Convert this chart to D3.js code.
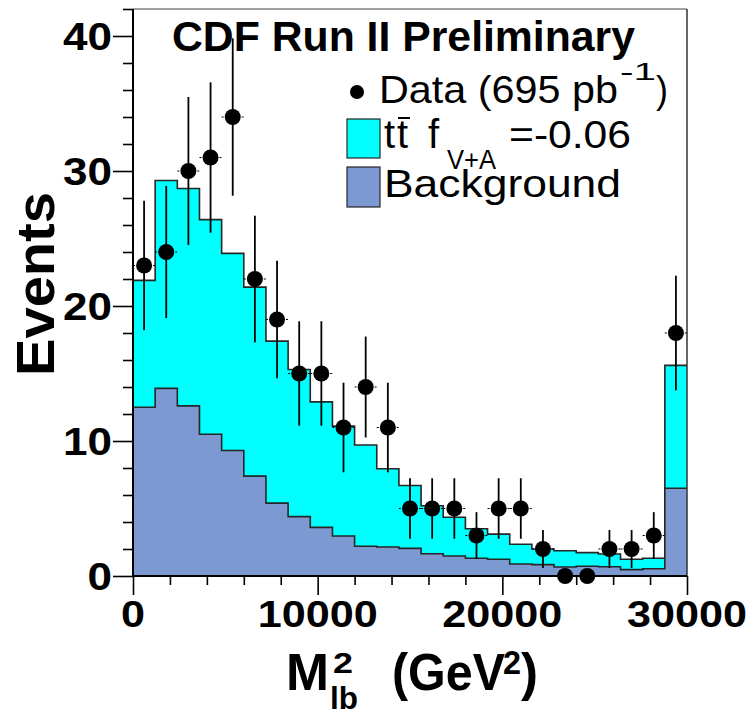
<!DOCTYPE html>
<html>
<head>
<meta charset="utf-8">
<script src="https://cdn.jsdelivr.net/npm/d3@7/dist/d3.min.js"></script>
<style>
  html, body { margin: 0; padding: 0; background: #fff; }
  svg { display: block; }
  text { font-family: "Liberation Sans", Arial, Helvetica, sans-serif; fill: #000; }
</style>
</head>
<body>
<svg id="chart" width="748" height="715"></svg>
<script>
// ---------------- data ----------------
const binCenters = [600, 1800, 3000, 4200, 5400, 6600, 7800, 9000, 10200, 11400, 12600, 13800,
  15000, 16200, 17400, 18600, 19800, 21000, 22200, 23400, 24600, 25800, 27000, 28200, 29400];
const binWidth = 1200;
const dataCounts = [23, 24, 30, 31, 34, 22, 19, 15, 15, 11, 14, 11, 5, 5, 5, 3, 5, 5, 2, 0, 0, 2, 2, 3, 18];
const dataErrors = [4.80, 4.90, 5.48, 5.57, 5.83, 4.69, 4.36, 3.87, 3.87, 3.32, 3.74, 3.32,
  2.24, 2.24, 2.24, 1.73, 2.24, 2.24, 1.41, 0, 0, 1.41, 1.41, 1.73, 4.24];
const totalExpected = [21.9, 29.3, 28.7, 26.4, 23.9, 21.4, 17.4, 15.3, 12.9, 11.1, 9.7, 7.95,
  6.7, 5.2, 4.35, 3.5, 3.1, 2.35, 2.0, 1.87, 1.73, 1.63, 1.24, 1.31, 15.6];
const background = [12.5, 13.9, 12.6, 10.5, 9.3, 7.4, 5.4, 4.4, 3.6, 2.96, 2.2, 2.15,
  2.05, 1.65, 1.48, 1.31, 1.24, 0.89, 0.84, 0.67, 0.72, 0.69, 0.47, 0.54, 6.5];
const xMajorTicks = [0, 10000, 20000, 30000];
const xTickLabels = ["0", "10000", "20000", "30000"];
const yMajorTicks = [0, 10, 20, 30, 40];
const yTickLabels = ["0", "10", "20", "30", "40"];
const xDomain = [0, 30000];
const yDomain = [0, 42];

// ---------------- layout ----------------
const L = 133, R = 687, T = 9, B = 576;
const svg = d3.select("#chart");
const x = d3.scaleLinear().domain(xDomain).range([L, R]);
const y = d3.scaleLinear().domain(yDomain).range([B, T]);

const CYAN = "#00ffff", BLUE = "#7d99d1", OUTLINE = "#262626";

function stepPoints(vals) {
  const pts = binCenters.map((c, i) => [c - binWidth / 2, vals[i]]);
  pts.push([binCenters[binCenters.length - 1] + binWidth / 2, vals[vals.length - 1]]);
  return pts;
}
const area = d3.area().x(d => x(d[0])).y0(y(0)).y1(d => y(d[1])).curve(d3.curveStepAfter);
const line = d3.line().x(d => x(d[0])).y(d => y(d[1])).curve(d3.curveStepAfter);

const g = svg.append("g");
[[totalExpected, CYAN], [background, BLUE]].forEach(([vals, col]) => {
  const pts = stepPoints(vals);
  g.append("path").attr("d", area(pts)).attr("fill", col).attr("stroke", "none");
  g.append("path").attr("d", line(pts)).attr("fill", "none")
    .attr("stroke", OUTLINE).attr("stroke-width", 1.6);
});

// frame
svg.append("line").attr("x1", L).attr("x2", R).attr("y1", T).attr("y2", T)
  .attr("stroke", "#444").attr("stroke-width", 1.2);
svg.append("line").attr("x1", R).attr("x2", R).attr("y1", T).attr("y2", B)
  .attr("stroke", "#333").attr("stroke-width", 1.5);

// axes ticks
const xMinor = d3.range(0, 30001, 2000).filter(v => !xMajorTicks.includes(v));
const yMinor = d3.range(0, 43, 2).filter(v => !yMajorTicks.includes(v));
function styleAxis(sel) {
  sel.select(".domain").remove();
  sel.selectAll(".tick line").attr("stroke", "#000").attr("stroke-width", 1.6);
  sel.selectAll(".tick text").remove();
}
svg.append("g").attr("transform", `translate(0,${B})`)
  .call(d3.axisBottom(x).tickValues(xMinor).tickSize(9)).call(styleAxis);
svg.append("g").attr("transform", `translate(0,${B})`)
  .call(d3.axisBottom(x).tickValues(xMajorTicks).tickSize(19)).call(styleAxis);
svg.append("g").attr("transform", `translate(${L},0)`)
  .call(d3.axisLeft(y).tickValues(yMinor).tickSize(10)).call(styleAxis);
svg.append("g").attr("transform", `translate(${L},0)`)
  .call(d3.axisLeft(y).tickValues(yMajorTicks).tickSize(20)).call(styleAxis);

// axis lines
svg.append("line").attr("x1", L).attr("x2", L).attr("y1", T).attr("y2", B)
  .attr("stroke", "#000").attr("stroke-width", 2);
svg.append("line").attr("x1", L).attr("x2", R).attr("y1", B).attr("y2", B)
  .attr("stroke", "#000").attr("stroke-width", 2);

// helper for text with fixed width
function txt(parent, str, xx, yy, size, width, bold) {
  const t = parent.append("text").attr("x", xx).attr("y", yy).attr("font-size", size).text(str);
  if (width) t.attr("textLength", width).attr("lengthAdjust", "spacingAndGlyphs");
  if (bold) t.attr("font-weight", "bold");
  return t;
}

// tick labels
xMajorTicks.forEach((v, i) => {
  svg.append("text").attr("x", x(v)).attr("y", 627).attr("text-anchor", "middle")
    .attr("font-size", 37).attr("font-weight", "bold")
    .attr("textLength", xTickLabels[i].length * 24).attr("lengthAdjust", "spacingAndGlyphs")
    .text(xTickLabels[i]);
});
yMajorTicks.forEach((v, i) => {
  svg.append("text").attr("x", 112).attr("y", y(v) + 13.5).attr("text-anchor", "end")
    .attr("font-size", 38).attr("font-weight", "bold")
    .attr("textLength", yTickLabels[i].length * 24.5).attr("lengthAdjust", "spacingAndGlyphs")
    .text(yTickLabels[i]);
});

// data points
const pts = svg.append("g");
binCenters.forEach((c, i) => {
  const n = dataCounts[i], e = dataErrors[i];
  pts.append("line").attr("x1", x(c - binWidth / 2)).attr("x2", x(c + binWidth / 2))
    .attr("y1", y(n)).attr("y2", y(n)).attr("stroke", "#000").attr("stroke-width", 1)
    .attr("stroke-dasharray", "2,3");
  if (e > 0) {
    pts.append("line").attr("x1", x(c)).attr("x2", x(c)).attr("y1", y(n - e)).attr("y2", y(n + e))
      .attr("stroke", "#000").attr("stroke-width", 1.8);
  }
  pts.append("circle").attr("cx", x(c)).attr("cy", y(n)).attr("r", 8).attr("fill", "#000");
});

// title
txt(svg, "CDF Run II Preliminary", 172, 51, 42, 463, true);

// legend
svg.append("circle").attr("cx", 357).attr("cy", 92).attr("r", 7).attr("fill", "#000");
txt(svg, "Data (695 pb", 379, 103, 39, 239);
txt(svg, "-1", 620, 80, 23, 36);
txt(svg, ")", 656, 103, 39, 12);

svg.append("rect").attr("x", 347).attr("y", 119).attr("width", 33).attr("height", 39)
  .attr("fill", CYAN).attr("stroke", OUTLINE).attr("stroke-width", 1.2);
txt(svg, "t", 384, 148, 40);
txt(svg, "t", 397, 148, 40);
svg.append("line").attr("x1", 398).attr("x2", 410).attr("y1", 118).attr("y2", 118)
  .attr("stroke", "#000").attr("stroke-width", 2);
txt(svg, "f", 428, 148, 40);
txt(svg, "V+A", 447, 169, 27, 49);
txt(svg, "=-0.06", 509, 148, 39, 122);

svg.append("rect").attr("x", 347).attr("y", 167).attr("width", 33).attr("height", 40)
  .attr("fill", BLUE).attr("stroke", OUTLINE).attr("stroke-width", 1.2);
txt(svg, "Background", 384, 197, 39, 237);

// y title
svg.append("text").attr("transform", "translate(53.5,284) rotate(-90)").attr("text-anchor", "middle")
  .attr("font-size", 53).attr("font-weight", "bold")
  .attr("textLength", 184).attr("lengthAdjust", "spacingAndGlyphs").text("Events");

// x title
const xt = svg.append("g");
txt(xt, "M", 286, 690, 52, 43, true);
txt(xt, "2", 333, 673, 29, 20, true);
txt(xt, "lb", 330, 709, 32, 28, true);
txt(xt, "(GeV", 392, 690, 52, 113, true);
txt(xt, "2", 503, 674, 33, 18, true);
txt(xt, ")", 521, 690, 52, 17, true);
</script>
</body>
</html>
